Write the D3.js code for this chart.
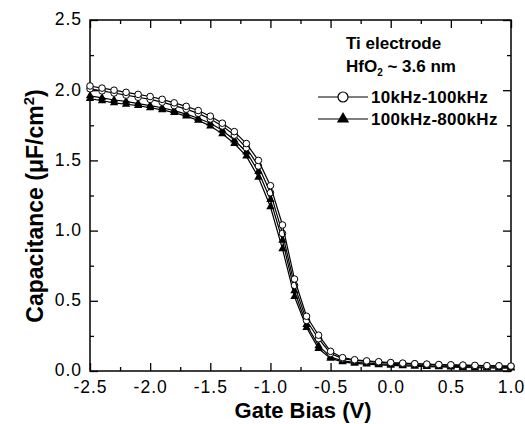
<!DOCTYPE html>
<html>
<head>
<meta charset="utf-8">
<script src="https://cdn.jsdelivr.net/npm/d3@7"></script>
<style>
  body { margin: 0; background: #fff; }
  svg { display: block; font-family: "Liberation Sans", Arial, sans-serif; }
  .tick text { font-size: 17.5px; fill: #000; }
  .axis path, .axis line { stroke: #000; }
</style>
</head>
<body>
<svg id="chart" width="525" height="424"></svg>
<script>
// gate bias sweep (V)
var bias = [-2.5,-2.4,-2.3,-2.2,-2.1,-2.0,-1.9,-1.8,-1.7,-1.6,-1.5,-1.4,-1.3,-1.2,-1.1,-1.0,-0.9,-0.8,
            -0.7,-0.6,-0.5,-0.4,-0.3,-0.2,-0.1,0.0,0.1,0.2,0.3,0.4,0.5,0.6,0.7,0.8,0.9,1.0];
// 10kHz-100kHz curves (open circles)
var lowA = [2.03,2.015,2.00,1.985,1.97,1.955,1.935,1.91,1.885,1.855,1.815,1.765,1.705,1.62,1.50,1.32,1.04,0.655,
            0.39,0.255,0.14,0.095,0.08,0.072,0.066,0.06,0.056,0.052,0.049,0.046,0.044,0.042,0.04,0.038,0.037,0.035];
var lowB = [2.01,1.995,1.98,1.965,1.95,1.935,1.915,1.89,1.865,1.835,1.795,1.745,1.68,1.59,1.46,1.27,0.98,0.61,
            0.36,0.23,0.125,0.088,0.075,0.068,0.062,0.057,0.053,0.05,0.047,0.044,0.042,0.04,0.038,0.036,0.035,0.033];
// 100kHz-800kHz curves (filled triangles)
var highA = [1.96,1.945,1.93,1.92,1.905,1.89,1.875,1.855,1.83,1.80,1.765,1.715,1.645,1.56,1.42,1.22,0.93,0.57,
             0.33,0.18,0.10,0.072,0.062,0.056,0.051,0.047,0.043,0.04,0.037,0.035,0.033,0.031,0.029,0.028,0.027,0.026];
var highB = [1.94,1.925,1.91,1.90,1.89,1.875,1.86,1.84,1.815,1.785,1.745,1.69,1.62,1.53,1.38,1.17,0.87,0.53,
             0.31,0.16,0.09,0.065,0.055,0.049,0.044,0.04,0.037,0.034,0.031,0.029,0.027,0.025,0.023,0.022,0.021,0.02];
var xTicks = [-2.5,-2.0,-1.5,-1.0,-0.5,0.0,0.5,1.0];
var yTicks = [0.0,0.5,1.0,1.5,2.0,2.5];
var xMinor = [-2.25,-1.75,-1.25,-0.75,-0.25,0.25,0.75];
var yMinor = [0.25,0.75,1.25,1.75,2.25];

var svg = d3.select("#chart");
var x = d3.scaleLinear().domain([-2.5, 1.0]).range([90, 511]);
var y = d3.scaleLinear().domain([0, 2.5]).range([371, 20]);

// frame
svg.append("rect")
  .attr("x", 90).attr("y", 20).attr("width", 421).attr("height", 351)
  .attr("fill", "none").attr("stroke", "#000").attr("stroke-width", 1.5);

function addAxis(axis, tx, ty, vals, size, fmt) {
  var g = svg.append("g").attr("class", "axis")
    .attr("transform", "translate(" + tx + "," + ty + ")")
    .call(axis.tickValues(vals).tickSizeInner(size).tickSizeOuter(0).tickPadding(4).tickFormat(fmt));
  g.select(".domain").remove();
  g.selectAll("line").attr("stroke-width", 1.3);
  return g;
}
// plain hyphen for negatives, like the original
var f1 = function(d) { return d3.format(".1f")(d).replace("\u2212", "-"); };
var none = function() { return ""; };
var bx = addAxis(d3.axisBottom(x), 0, 371, xTicks, -8, f1);
addAxis(d3.axisBottom(x), 0, 371, xMinor, -4, none);
addAxis(d3.axisTop(x), 0, 20, xTicks, -8, none);
addAxis(d3.axisTop(x), 0, 20, xMinor, -4, none);
var ly = addAxis(d3.axisLeft(y), 90, 0, yTicks, -8, f1);
addAxis(d3.axisLeft(y), 90, 0, yMinor, -4, none);
addAxis(d3.axisRight(y), 511, 0, yTicks, -8, none);
addAxis(d3.axisRight(y), 511, 0, yMinor, -4, none);
bx.selectAll("text").attr("dy", "1em").style("letter-spacing", "1px");
ly.selectAll("text").attr("dx", "-4px").attr("dy", "0.28em").style("letter-spacing", "1px");

var line = d3.line()
  .x(function(d) { return x(d.v); })
  .y(function(d) { return y(d.c); });
function pts(arr) { return bias.map(function(v, i) { return { v: v, c: arr[i] }; }); }
var tri = d3.symbol().type(d3.symbolTriangle).size(30);

function drawSeries(arr, kind) {
  var data = pts(arr);
  svg.append("path").datum(data).attr("d", line)
    .attr("fill", "none").attr("stroke", "#000").attr("stroke-width", 1.2);
  if (kind === "circle") {
    svg.append("g").selectAll("circle").data(data).enter().append("circle")
      .attr("cx", function(d) { return x(d.v); })
      .attr("cy", function(d) { return y(d.c); })
      .attr("r", 3.3).attr("fill", "#fff").attr("stroke", "#000").attr("stroke-width", 1);
  } else {
    svg.append("g").selectAll("path").data(data).enter().append("path")
      .attr("d", tri)
      .attr("transform", function(d) { return "translate(" + x(d.v) + "," + y(d.c) + ")"; })
      .attr("fill", "#000");
  }
}
drawSeries(highB, "tri");
drawSeries(highA, "tri");
drawSeries(lowB, "circle");
drawSeries(lowA, "circle");

// axis titles
svg.append("text").attr("x", 303).attr("y", 418).attr("text-anchor", "middle")
  .attr("font-size", 22).attr("font-weight", "bold").text("Gate Bias (V)");
var yl = svg.append("text").attr("transform", "translate(43,206) rotate(-90)")
  .attr("text-anchor", "middle").attr("font-size", 23).attr("font-weight", "bold");
yl.append("tspan").text("Capacitance (\u03bcF/cm");
yl.append("tspan").attr("dy", -9).attr("font-size", 15).text("2");
yl.append("tspan").attr("dy", 9).text(")");

// legend
var lg = svg.append("g").attr("font-weight", "bold").attr("font-size", 17);
lg.append("text").attr("x", 346).attr("y", 49).text("Ti electrode");
var hf = lg.append("text").attr("x", 346).attr("y", 72);
hf.append("tspan").text("HfO");
hf.append("tspan").attr("dy", 4).attr("font-size", 10).text("2");
hf.append("tspan").attr("dy", -4).text(" ~ 3.6 nm");

var legendItems = [
  { label: "10kHz-100kHz", kind: "circle", ly: 97 },
  { label: "100kHz-800kHz", kind: "tri", ly: 119 }
];
legendItems.forEach(function(it) {
  lg.append("line").attr("x1", 318).attr("x2", 368).attr("y1", it.ly).attr("y2", it.ly)
    .attr("stroke", "#000").attr("stroke-width", 1.2);
  if (it.kind === "circle") {
    lg.append("circle").attr("cx", 343).attr("cy", it.ly).attr("r", 5)
      .attr("fill", "#fff").attr("stroke", "#000").attr("stroke-width", 1.2);
  } else {
    lg.append("path").attr("d", d3.symbol().type(d3.symbolTriangle).size(65))
      .attr("transform", "translate(343," + it.ly + ")").attr("fill", "#000");
  }
  lg.append("text").attr("x", 371).attr("y", it.ly + 6).style("letter-spacing", "0.3px").text(it.label);
});
</script>
</body>
</html>
